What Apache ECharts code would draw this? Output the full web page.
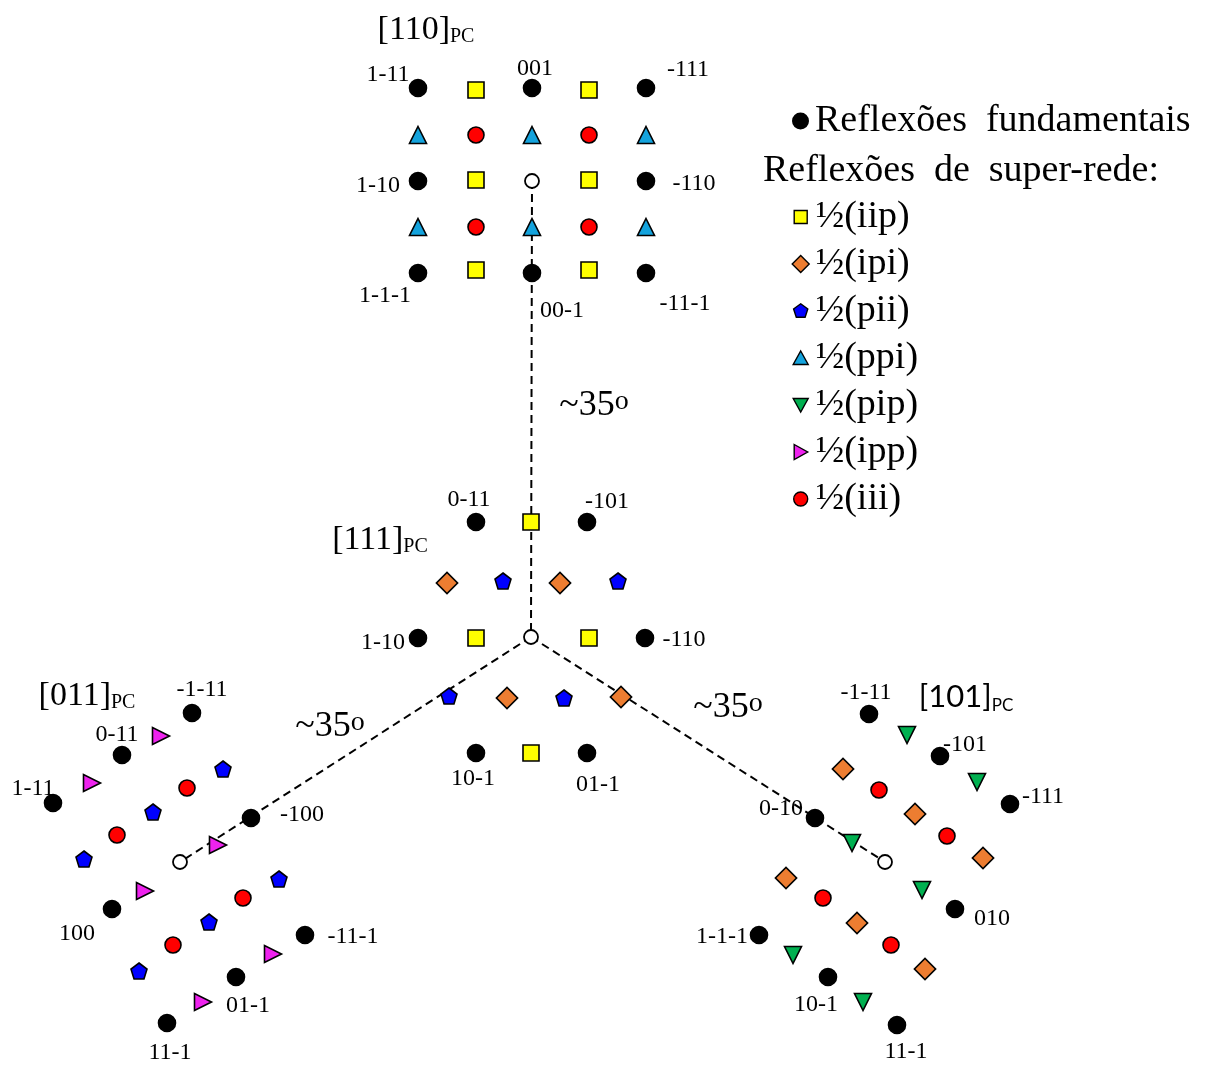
<!DOCTYPE html>
<html>
<head>
<meta charset="utf-8">
<script src="https://cdn.jsdelivr.net/npm/echarts@6/dist/echarts.min.js"></script>
<style>
html,body{margin:0;padding:0;background:#fff;}
#chart{width:1211px;height:1066px;}
</style>
</head>
<body>
<div id="chart"></div>
<script>
// ---- data (pixel-like coordinates of the diagram space) ----
const fundamental = [
  [418,88],[532,88],[646,88],[418,181],[646,181],[418,273],[532,273],[646,273],
  [476,522],[587,522],[418,638],[645,638],[476,753],[587,753],
  [192,713],[122,755],[53,803],[251,818],[112,909],[305,935],[236,977],[167,1023],
  [869,714],[940,756],[1010,804],[815,818],[955,909],[759,935],[828,977],[897,1025]
];
const origins = [[532,181],[531,637],[180,862],[885,862]];
const iip = [[476,90],[589,90],[476,180],[589,180],[476,270],[589,270],
  [531,522],[476,638],[589,638],[531,753]];
const ipi = [[447,583],[560,583],[507,698],[621,697],
  [843,769],[915,814],[983,858],[786,878],[857,923],[925,969]];
const pii = [[503,581],[618,581],[449,696],[564,698],
  [223,769],[153,812],[84,859],[279,879],[209,922],[139,971]];
const ppi = [[418,135],[532,135],[646,135],[418,227],[532,227],[646,227]];
const pip = [[907,735],[977,782],[852,843],[922,890],[793,955],[863,1002]];
const ipp = [[161,736],[92,783],[218,845],[145,891],[273,954],[203,1002]];
const iii = [[476,135],[589,135],[476,227],[589,227],
  [187,788],[117,835],[243,898],[173,945],
  [879,790],[947,836],[823,898],[891,945]];
const guides = [
  [[532,181],[531,637]],
  [[531,637],[180,862]],
  [[531,637],[885,862]]
];
const hklLabels = [
  [388,75,'1-11'],[535,69,'001'],[688,70,'-111'],[378,186,'1-10'],[694,184,'-110'],
  [385,296,'1-1-1'],[562,311,'00-1'],[685,304,'-11-1'],
  [469,500,'0-11'],[607,502,'-101'],[383,643,'1-10'],[684,640,'-110'],[473,779,'10-1'],[598,785,'01-1'],
  [202,690,'-1-11'],[117,735,'0-11'],[33,789,'1-11'],[302,815,'-100'],[77,934,'100'],
  [353,937,'-11-1'],[248,1006,'01-1'],[170,1053,'11-1'],
  [866,693,'-1-11'],[965,745,'-101'],[1043,797,'-111'],[781,809,'0-10'],[992,919,'010'],
  [722,937,'1-1-1'],[816,1005,'10-1'],[906,1052,'11-1']
];
const zoneLabels = [[426,30,'110','serif'],[380,540,'111','serif'],[87,696,'011','serif'],[966,697,'101','sans']];
const angleLabels = [[594,406],[330,727],[728,708]];
const legendNames = ['½(iip)','½(ipi)','½(pii)','½(ppi)','½(pip)','½(ipp)','½(iii)'];
const fundName = 'Reflexões  fundamentais';
const superTitle = 'Reflexões  de  super-rede:';

// ---- chart ----
const SERIF = '"Liberation Serif", "Times New Roman", serif';
const SANS = 'Lato, "Open Sans", sans-serif';
const pentagon = 'path://M0,-10 L9.51,-3.09 L5.88,8.09 L-5.88,8.09 L-9.51,-3.09 Z';
const border = {borderColor:'#000', borderWidth:1.6};

// legend icons in an 18x18 box (the leading moves fix the box size)
const BOX = 'path://M0,0 M18,18 ';
const icons = [
  BOX + 'M2.5,2.5 L15.5,2.5 L15.5,15.5 L2.5,15.5 Z',
  BOX + 'M9,0.5 L17.5,9 L9,17.5 L0.5,9 Z',
  BOX + 'M9,1.8 L16.1,6.9 L13.4,15.2 L4.6,15.2 L1.9,6.9 Z',
  BOX + 'M9,2 L16.5,15.5 L1.5,15.5 Z',
  BOX + 'M1.5,2.5 L16.5,2.5 L9,16 Z',
  BOX + 'M2.5,1.5 L16,9 L2.5,16.5 Z',
  BOX + 'M16,9 A7,7 0 1,1 2,9 A7,7 0 1,1 16,9 Z'
];

function markerSeries(name, data, symbol, size, color, rotate){
  return {
    type:'scatter', name:name, data:data, symbol:symbol, symbolSize:size,
    symbolRotate:rotate||0, z:3, silent:true,
    itemStyle:Object.assign({color:color, opacity:1}, border)
  };
}

const series = [];
guides.forEach(function(seg){
  series.push({type:'line', data:seg, symbol:'none', z:1, silent:true,
    lineStyle:{color:'#000', width:2, type:[8,5]}});
});
series.push(markerSeries(fundName, fundamental, 'circle', 17, '#000'));
series.push({type:'scatter', name:'origin', data:origins, symbol:'circle', symbolSize:14, z:3, silent:true,
  itemStyle:{color:'#fff', borderColor:'#000', borderWidth:1.8, opacity:1}});
series.push(markerSeries(legendNames[0], iip, 'rect', 16, '#ffff00'));
series.push(markerSeries(legendNames[1], ipi, 'rect', 15, '#ed7d31', 45));
series.push(markerSeries(legendNames[2], pii, pentagon, 16, '#0000ff'));
series.push(markerSeries(legendNames[3], ppi, 'triangle', 17, '#14a3dd'));
series.push(markerSeries(legendNames[4], pip, 'triangle', 17, '#00b050', 180));
series.push(markerSeries(legendNames[5], ipp, 'triangle', 17, '#ee22ee', -90));
series.push(markerSeries(legendNames[6], iii, 'circle', 16, '#ff0000'));

const labelItemStyle = {opacity:1, color:'transparent'};
// hkl index labels
series.push({
  type:'scatter', name:'hkl', symbol:'circle', symbolSize:0, z:4, silent:true,
  itemStyle:labelItemStyle,
  data:hklLabels.map(function(d){return {value:[d[0],d[1]], name:d[2]};}),
  label:{show:true, position:'inside', formatter:'{b}', color:'#000',
    fontFamily:SERIF, fontSize:24, align:'center', verticalAlign:'middle'}
});
// zone axis labels
series.push({
  type:'scatter', name:'zones', symbol:'circle', symbolSize:0, z:4, silent:true,
  itemStyle:labelItemStyle,
  data:zoneLabels.map(function(d){
    const isSans = d[3]==='sans';
    return {value:[d[0],d[1]], name:d[2], label:{
      formatter: isSans ? '{ms|[' + d[2] + ']}{ss|PC}' : '{m|[' + d[2] + ']}{s|PC}'
    }};
  }),
  label:{show:true, position:'inside', color:'#000', align:'center', verticalAlign:'middle',
    rich:{
      m:{fontFamily:SERIF, fontSize:34, lineHeight:34, color:'#000'},
      s:{fontFamily:SERIF, fontSize:20, lineHeight:20, verticalAlign:'bottom', color:'#000'},
      ms:{fontFamily:SANS, fontSize:31, lineHeight:34, color:'#000'},
      ss:{fontFamily:SANS, fontSize:17, lineHeight:20, verticalAlign:'bottom', color:'#000'}
    }}
});
// angle labels
series.push({
  type:'scatter', name:'angles', symbol:'circle', symbolSize:0, z:4, silent:true,
  itemStyle:labelItemStyle,
  data:angleLabels.map(function(d){return {value:[d[0],d[1]], name:'~35'};}),
  label:{show:true, position:'inside', formatter:'{m|{b}}{o|o}', align:'center', verticalAlign:'middle',
    rich:{
      m:{fontFamily:SERIF, fontSize:36, lineHeight:36, color:'#000'},
      o:{fontFamily:SERIF, fontSize:28, lineHeight:16, verticalAlign:'top', color:'#000'}
    }}
});

const chart = echarts.init(document.getElementById('chart'), null, {renderer:'canvas'});
chart.setOption({
  backgroundColor:'#fff',
  animation:false,
  grid:{left:0, right:0, top:0, bottom:0},
  xAxis:{type:'value', min:0, max:1211, show:false},
  yAxis:{type:'value', min:0, max:1066, inverse:true, show:false},
  legend:[
    {data:[{name:fundName, icon:'circle'}], left:792, top:102, padding:0, itemWidth:15, itemHeight:15,
      selectedMode:false,
      textStyle:{fontFamily:SERIF, fontSize:38, lineHeight:38, color:'#000', padding:[0,0,0,2]}},
    {data:legendNames.map(function(n,i){
        return {name:n, icon:icons[i], itemStyle:{borderColor:'#000', borderWidth:1.4}};
      }),
      orient:'vertical', left:791, top:198, padding:0, itemWidth:18, itemHeight:18, itemGap:9,
      selectedMode:false,
      textStyle:{fontFamily:SERIF, fontSize:38, lineHeight:38, color:'#000', padding:[0,0,0,1]}}
  ],
  graphic:[
    {type:'text', left:763, top:152, silent:true,
      style:{text:superTitle, font:'38px ' + SERIF, fill:'#000'}}
  ],
  series:series
});
</script>
</body>
</html>
